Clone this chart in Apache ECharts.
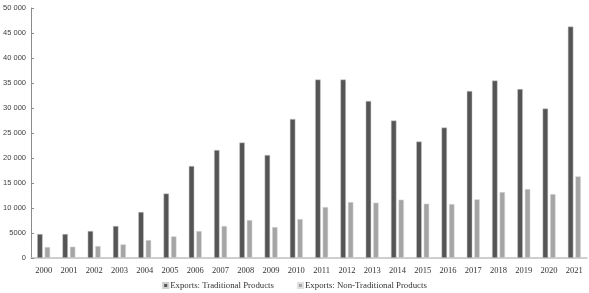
<!DOCTYPE html>
<html>
<head>
<meta charset="utf-8">
<script src="https://cdn.jsdelivr.net/npm/echarts@6/dist/echarts.min.js"></script>
<style>html,body{margin:0;padding:0;background:#fff;}#c{width:589px;height:293px;}</style>
</head>
<body>
<div id="c"></div>
<script>
const years = ['2000','2001','2002','2003','2004','2005','2006','2007','2008','2009','2010','2011','2012','2013','2014','2015','2016','2017','2018','2019','2020','2021'];
const traditional = [4800,4800,5400,6400,9200,12900,18400,21600,23100,20600,27800,35700,35700,31400,27500,23300,26100,33400,35500,33800,29900,46300];
const nonTraditional = [2200,2270,2400,2730,3600,4330,5400,6400,7600,6200,7800,10200,11200,11070,11670,10870,10800,11730,13200,13800,12800,16330];
const seriesNames = ['Exports: Traditional Products','Exports: Non-Traditional Products'];

const chart = echarts.init(document.getElementById('c'));
function fmt(v){
  if (v < 10000) return String(v);
  const s = String(v);
  return s.slice(0, s.length-3) + ' ' + s.slice(-3);
}
chart.setOption({
  animation:false,
  grid:{left:31,right:2,top:8,bottom:35,containLabel:false},
  legend:{
    top:276,left:'center',itemWidth:5,itemHeight:5,itemGap:23,icon:'rect',
    textStyle:{fontFamily:'Liberation Serif',fontSize:8.8,color:'#333333',padding:[0,0,0,-3]},
    data:seriesNames
  },
  xAxis:{
    type:'category',data:years,
    axisLine:{lineStyle:{color:'#bfbfbf',width:1.5}},
    axisTick:{show:false},
    axisLabel:{fontFamily:'Liberation Serif',fontSize:8.5,color:'#333333',margin:8,interval:0}
  },
  yAxis:{
    type:'value',min:0,max:50000,interval:5000,
    axisLine:{show:true,lineStyle:{color:'#8c8c8c',width:1}},
    axisTick:{show:true,inside:true,length:3,lineStyle:{color:'#8c8c8c'}},
    splitLine:{show:false},
    axisLabel:{fontFamily:'Liberation Sans',fontSize:7.5,color:'#404040',margin:5,formatter:fmt}
  },
  series:[
    {name:seriesNames[0],type:'bar',data:traditional,barWidth:5.5,barGap:'36%',
     itemStyle:{color:'#555555',borderColor:'#cfcfcf',borderWidth:0.5}},
    {name:seriesNames[1],type:'bar',data:nonTraditional,barWidth:5.5,
     itemStyle:{color:'#a5a5a5',borderColor:'#e0e0e0',borderWidth:0.5}}
  ]
});
</script>
</body>
</html>
